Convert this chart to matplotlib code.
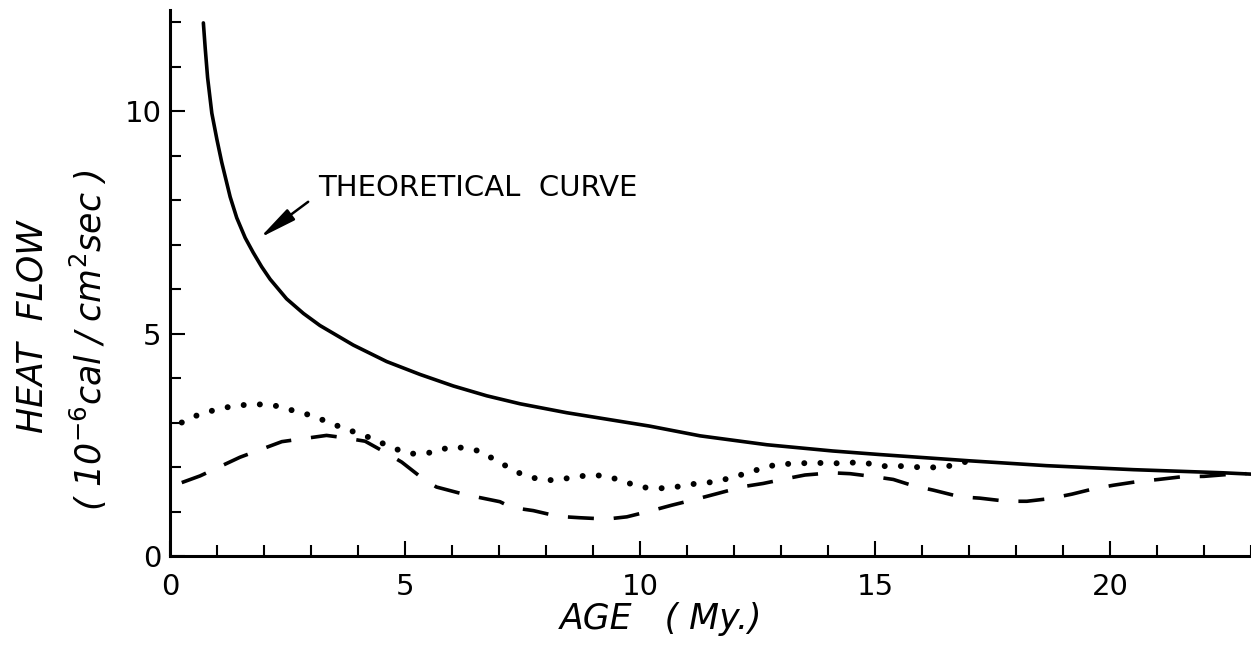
import matplotlib.pyplot as plt
from matplotlib.ticker import MultipleLocator

# theoretical heat flow curve
theory_age = [0.71, 0.75, 0.80, 0.89, 1.0, 1.1, 1.28, 1.42, 1.6, 1.77, 1.95, 2.13, 2.48,
              2.84, 3.19, 3.9, 4.61, 5.32, 6.03, 6.74, 7.45, 8.44, 10.2, 11.28, 12.7,
              14.1, 15.1, 17.0, 18.65, 20.5, 22.4, 23.0]
theory_flow = [11.98, 11.4, 10.75, 9.95, 9.35, 8.85, 8.07, 7.6, 7.15, 6.82, 6.5, 6.22, 5.78,
               5.45, 5.18, 4.74, 4.37, 4.08, 3.82, 3.60, 3.42, 3.22, 2.92, 2.70, 2.50,
               2.36, 2.28, 2.14, 2.03, 1.94, 1.87, 1.84]

# dotted profile
dot_age = [0.25, 0.55, 0.88, 1.2, 1.52, 1.87, 2.23, 2.58, 2.93, 3.27, 3.6, 4.2, 4.79,
           5.09, 5.36, 5.65, 5.95, 6.27, 6.62, 6.94, 7.23, 7.51, 7.87, 8.19, 8.58, 8.94,
           9.27, 9.65, 9.99, 10.34, 10.67, 11.04, 11.4, 11.72, 12.02, 12.34, 12.64, 12.95,
           13.29, 13.67, 14.03, 14.39, 14.72, 15.13, 15.46, 15.7, 16.05, 16.37, 16.63, 16.94]
dot_flow = [3.0, 3.15, 3.26, 3.34, 3.39, 3.41, 3.38, 3.28, 3.18, 3.05, 2.91, 2.68, 2.41,
            2.3, 2.3, 2.34, 2.45, 2.43, 2.35, 2.14, 1.98, 1.82, 1.72, 1.70, 1.77, 1.82,
            1.80, 1.68, 1.55, 1.52, 1.53, 1.61, 1.64, 1.70, 1.78, 1.89, 1.98, 2.07,
            2.07, 2.10, 2.08, 2.09, 2.11, 2.02, 2.02, 2.02, 1.98, 2.0, 2.03, 2.12]

# dashed profile
dash_age = [0.25, 0.64, 1.49, 2.38, 3.33, 3.62, 4.15, 4.61, 4.93, 5.39, 5.67, 6.28, 7.02,
            7.27, 7.73, 8.26, 8.72, 9.29, 9.72, 10.25, 10.67, 11.24, 11.67, 12.2, 12.62,
            13.12, 13.51, 14.08, 14.47, 15.0, 15.39, 15.81, 16.24, 16.81, 17.23, 17.8,
            18.23, 18.72, 19.19, 19.65, 20.07, 20.57, 21.03, 21.52, 22.0, 22.48, 22.9]
dash_flow = [1.65, 1.80, 2.22, 2.57, 2.71, 2.67, 2.58, 2.31, 2.11, 1.73, 1.55, 1.38, 1.22,
             1.09, 1.02, 0.89, 0.86, 0.83, 0.88, 1.02, 1.14, 1.29, 1.41, 1.56, 1.63,
             1.74, 1.82, 1.87, 1.85, 1.78, 1.72, 1.58, 1.48, 1.33, 1.30, 1.23,
             1.23, 1.29, 1.39, 1.51, 1.59, 1.67, 1.72, 1.78, 1.79, 1.83, 1.85]

fig = plt.figure(figsize=(12.51, 6.47), dpi=100)
ax = fig.add_axes([170 / 1251, 91 / 647, 1081 / 1251, 546 / 647])

ax.plot(theory_age, theory_flow, color="black", lw=2.6, solid_capstyle="round",
        solid_joinstyle="round")
ax.plot(dot_age, dot_flow, color="black", lw=4.3, linestyle=(0, (0.01, 2.7)),
        dash_capstyle="round")
ax.plot(dash_age, dash_flow, color="black", lw=2.6, linestyle=(0, (7.2, 5.5)))

# arrow + label for the theoretical curve
ax.annotate("", xy=(1.91, 7.15), xytext=(2.94, 7.96),
            arrowprops=dict(arrowstyle="-|>,head_length=0.9,head_width=0.16",
                            color="black", lw=1.8, mutation_scale=25,
                            shrinkA=0, shrinkB=0))
ax.text(3.15, 8.27, "THEORETICAL  CURVE", fontsize=21, va="center", ha="left")

# axes: only left and bottom, ticks pointing inward
ax.spines["top"].set_visible(False)
ax.spines["right"].set_visible(False)
ax.spines["left"].set_linewidth(2.2)
ax.spines["bottom"].set_linewidth(2.2)
ax.set_xlim(0, 23.0)
ax.set_ylim(0, 12.27)
ax.xaxis.set_major_locator(MultipleLocator(5))
ax.xaxis.set_minor_locator(MultipleLocator(1))
ax.yaxis.set_major_locator(MultipleLocator(5))
ax.yaxis.set_minor_locator(MultipleLocator(1))
ax.tick_params(which="both", direction="in", width=1.5, labelsize=21)
ax.tick_params(which="major", length=11)
ax.tick_params(which="minor", length=8)
ax.tick_params(axis="x", pad=12)
ax.tick_params(axis="y", pad=6)

# axis titles
fig.text(661 / 1251, 1 - 619 / 647, "AGE   ( My.)", style="italic", fontsize=25,
         ha="center", va="center")
fig.text(33 / 1251, 1 - 327 / 647, "HEAT  FLOW", style="italic", fontsize=25,
         rotation=90, ha="center", va="center")
fig.text(88 / 1251, 1 - 340 / 647, r"( 10$^{-6}$cal / cm$^2$sec )", style="italic",
         fontsize=25, rotation=90, ha="center", va="center")

plt.savefig("out.png", dpi=100)
